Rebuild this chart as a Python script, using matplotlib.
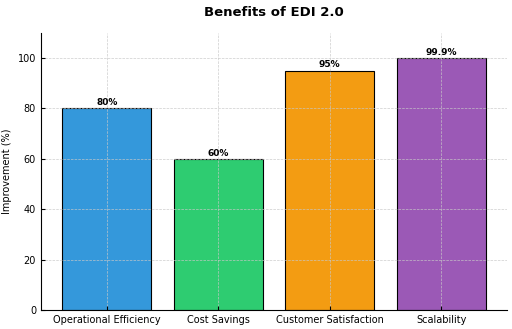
import matplotlib
matplotlib.use("Agg")
import matplotlib.pyplot as plt

categories = ["Operational Efficiency", "Cost Savings", "Customer Satisfaction", "Scalability"]
values = [80, 60, 95, 99.9]
labels = ["80%", "60%", "95%", "99.9%"]
colors = ["#3498db", "#2ecc71", "#f39c12", "#9b59b6"]

fig = plt.figure(figsize=(5.12, 3.29), dpi=100)
ax = fig.add_axes([0.08, 0.058, 0.91, 0.842])

bars = ax.bar(categories, values, color=colors, edgecolor="black", linewidth=0.8, width=0.8)
for b, lab in zip(bars, labels):
    ax.text(b.get_x() + b.get_width() / 2, b.get_height() + 0.5, lab,
            ha="center", va="bottom", fontsize=6.5, fontweight="bold")

ax.set_ylim(0, 110)
ax.set_ylabel("Improvement (%)", fontsize=7)
ax.set_title("Benefits of EDI 2.0", fontsize=9.5, fontweight="bold", pad=12)
ax.tick_params(direction="in", labelsize=7, length=3)
ax.grid(True, linestyle="--", linewidth=0.5, color="#c8c8c8", alpha=0.9)
ax.spines["top"].set_visible(False)
ax.spines["right"].set_visible(False)

fig.savefig("out.png", dpi=100)
